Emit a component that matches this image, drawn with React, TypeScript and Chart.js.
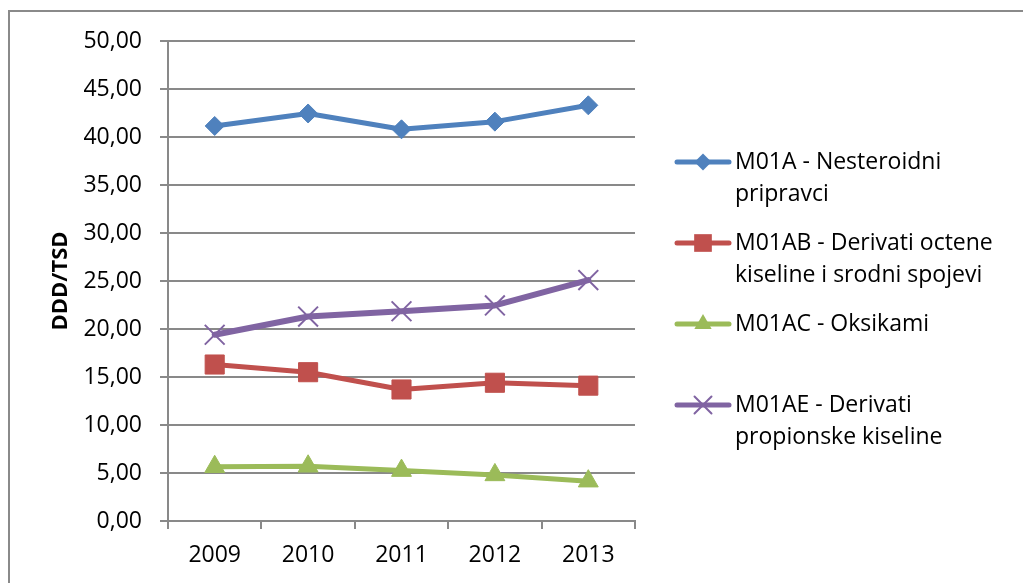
import React, { useEffect, useRef } from 'react';
import { Chart, registerables } from 'chart.js';

Chart.register(...registerables);

// ---- data ----
const years = ['2009', '2010', '2011', '2012', '2013'];
const seriesNames = [
  'M01A - Nesteroidni pripravci',
  'M01AB - Derivati octene kiseline i srodni spojevi',
  'M01AC - Oksikami',
  'M01AE - Derivati propionske kiseline',
];
const m01a = [41.15, 42.45, 40.8, 41.6, 43.3];
const m01ab = [16.3, 15.5, 13.7, 14.4, 14.1];
const m01ac = [5.65, 5.7, 5.25, 4.8, 4.15];
const m01ae = [19.4, 21.3, 21.85, 22.45, 25.1];
const yTitle = 'DDD/TSD';
const yMin = 0;
const yMax = 50;
const yStep = 5;

// ---- styles ----
const colors = ['#4F81BD', '#C0504D', '#9BBB59', '#8064A2'];
const pointStyles = ['rectRot', 'rect', 'triangle', 'crossRot'];
const pointRadii = [9.5, 13.5, 11.5, 14];
const legendRadii = [8.5, 12.5, 10, 12];
const gridColor = '#898989';
const fontFamily = '"Open Sans", "DejaVu Sans", sans-serif';

function drawMarker(ctx: CanvasRenderingContext2D, style: string, x: number, y: number, r: number, color: string) {
  ctx.save();
  ctx.fillStyle = color;
  ctx.strokeStyle = color;
  ctx.beginPath();
  if (style === 'rectRot') {
    ctx.moveTo(x - r, y);
    ctx.lineTo(x, y - r);
    ctx.lineTo(x + r, y);
    ctx.lineTo(x, y + r);
    ctx.closePath();
    ctx.fill();
  } else if (style === 'rect') {
    const s = r * Math.SQRT1_2;
    ctx.rect(x - s, y - s, 2 * s, 2 * s);
    ctx.fill();
  } else if (style === 'triangle') {
    const h = r * Math.sin(Math.PI / 3);
    ctx.moveTo(x, y - r);
    ctx.lineTo(x + h, y + r / 2);
    ctx.lineTo(x - h, y + r / 2);
    ctx.closePath();
    ctx.fill();
  } else if (style === 'crossRot') {
    const s = r * Math.SQRT1_2;
    ctx.lineWidth = 2;
    ctx.moveTo(x - s, y - s);
    ctx.lineTo(x + s, y + s);
    ctx.moveTo(x + s, y - s);
    ctx.lineTo(x - s, y + s);
    ctx.stroke();
  }
  ctx.restore();
}

function wrapText(ctx: CanvasRenderingContext2D, text: string, maxWidth: number): string[] {
  const words = text.split(' ');
  const lines: string[] = [];
  let cur = '';
  for (const w of words) {
    const test = cur ? cur + ' ' + w : w;
    if (cur && ctx.measureText(test).width > maxWidth) {
      lines.push(cur);
      cur = w;
    } else {
      cur = test;
    }
  }
  if (cur) lines.push(cur);
  return lines;
}

const sideLegend = {
  id: 'sideLegend',
  afterDraw(chart: any) {
    const ctx: CanvasRenderingContext2D = chart.ctx;
    ctx.save();
    ctx.font = '23px ' + fontFamily;
    ctx.textBaseline = 'middle';
    ctx.textAlign = 'left';
    chart.data.datasets.forEach((ds: any, i: number) => {
      const y0 = 162 + i * 81;
      ctx.strokeStyle = ds.borderColor;
      ctx.lineWidth = 5;
      ctx.lineCap = 'round';
      ctx.beginPath();
      ctx.moveTo(677, y0);
      ctx.lineTo(729, y0);
      ctx.stroke();
      drawMarker(ctx, ds.pointStyle, 703, y0, legendRadii[i], ds.borderColor);
      ctx.fillStyle = '#000';
      const lines = wrapText(ctx, ds.label, 280);
      lines.forEach((l, j) => ctx.fillText(l, 735, y0 + j * 32));
    });
    ctx.restore();
  },
};

export default function App() {
  const ref = useRef<HTMLCanvasElement>(null);
  useEffect(() => {
    if (!ref.current) return;
    const values = [m01a, m01ab, m01ac, m01ae];
    const chart = new Chart(ref.current, {
      type: 'line',
      data: {
        labels: years,
        datasets: values.map((v, i) => ({
          label: seriesNames[i],
          data: v,
          borderColor: colors[i],
          backgroundColor: colors[i],
          borderWidth: i === 3 ? 6 : 5,
          pointStyle: pointStyles[i] as any,
          pointRadius: pointRadii[i],
          pointBorderWidth: i === 3 ? 2 : 1,
          pointBorderColor: colors[i],
          pointBackgroundColor: colors[i],
          tension: 0,
          borderJoinStyle: 'round' as const,
          borderCapStyle: 'round' as const,
        })),
      },
      options: {
        animation: false,
        responsive: false,
        layout: { padding: { top: 41, right: 388, bottom: 0, left: 0 } },
        plugins: { legend: { display: false }, tooltip: { enabled: false } },
        scales: {
          x: {
            type: 'category',
            offset: true,
            grid: {
              offset: true,
              drawOnChartArea: false,
              drawTicks: true,
              tickLength: 8,
              color: gridColor,
              lineWidth: 2,
            },
            border: { color: gridColor, width: 2 },
            ticks: { font: { family: fontFamily, size: 23 }, color: '#000', padding: 13, maxRotation: 0 },
            afterFit: (s: any) => { s.height = 62; },
          },
          y: {
            min: yMin,
            max: yMax,
            ticks: {
              stepSize: yStep,
              font: { family: fontFamily, size: 23 },
              color: '#000',
              padding: 18,
              callback: (v: any) => Number(v).toFixed(2).replace('.', ','),
            },
            grid: { color: gridColor, lineWidth: 2, tickLength: 8, drawTicks: true },
            border: { color: gridColor, width: 2 },
            title: {
              display: true,
              text: yTitle,
              color: '#000',
              font: { family: fontFamily, size: 22, weight: 'bold', lineHeight: 1 },
              padding: { top: 50, bottom: 0 },
            },
            afterFit: (s: any) => { s.width = 168; },
          },
        },
      },
      plugins: [sideLegend],
    });
    return () => chart.destroy();
  }, []);

  return (
    <>
      <div
        style={{
          position: 'fixed',
          left: 8,
          top: 10,
          width: 1200,
          height: 800,
          border: '2px solid #8a8a8a',
          boxSizing: 'border-box',
        }}
      />
      <canvas
        ref={ref}
        width={1023}
        height={583}
        style={{ position: 'fixed', left: 0, top: 0, width: 1023, height: 583, display: 'block' }}
      />
    </>
  );
}
